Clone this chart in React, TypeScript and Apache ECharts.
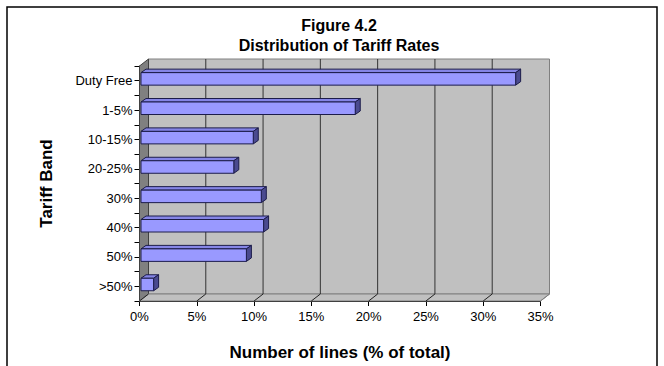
import React, { useEffect, useRef } from "react";
import * as echarts from "echarts";

const categories = ["Duty Free", "1-5%", "10-15%", "20-25%", "30%", "40%", "50%", ">50%"];
const shares = [32.7, 18.7, 9.8, 8.1, 10.5, 10.7, 9.2, 1.1];
const xTicks = [0, 5, 10, 15, 20, 25, 30, 35];

const FONT = "'Liberation Sans', Arial, sans-serif";
const DX = 9;
const DY = -7;

export default function App() {
  const ref = useRef<HTMLDivElement>(null);
  useEffect(() => {
    if (!ref.current) return;
    const chart = echarts.init(ref.current, null, { renderer: "svg" });
    const option: any = {
      animation: false,
      backgroundColor: "#ffffff",
      grid: { left: 139.5, top: 66, width: 401, height: 236, containLabel: false },
      xAxis: {
        type: "value",
        min: 0,
        max: 35,
        interval: 5,
        name: "Number of lines (% of total)",
        nameLocation: "middle",
        nameGap: 43,
        nameTextStyle: { fontFamily: FONT, fontSize: 17, fontWeight: "bold", color: "#000" },
        axisLine: { show: true, lineStyle: { color: "#000", width: 1 } },
        axisTick: { show: true, length: 5, lineStyle: { color: "#000" } },
        axisLabel: { formatter: "{value}%", fontFamily: FONT, fontSize: 13, color: "#000", margin: 9 },
        splitLine: { show: false },
      },
      yAxis: [
        {
          type: "category",
          data: categories,
          inverse: true,
          name: "Tariff Band",
          nameLocation: "middle",
          nameGap: 85,
          nameRotate: 90,
          nameTextStyle: { fontFamily: FONT, fontSize: 17, fontWeight: "bold", color: "#000" },
          axisLine: { show: true, lineStyle: { color: "#000", width: 1 } },
          axisTick: { show: true, length: 5, lineStyle: { color: "#000" } },
          axisLabel: { fontFamily: FONT, fontSize: 13, color: "#000", margin: 7 },
          splitLine: { show: false },
        },
        {
          type: "category",
          data: categories,
          inverse: true,
          position: "left",
          axisLine: { show: false },
          axisTick: { show: true, alignWithLabel: true, length: 5, lineStyle: { color: "#000" } },
          axisLabel: { show: false },
          splitLine: { show: false },
        },
      ],
      graphic: [
        {
          type: "rect",
          shape: { x: 7, y: 7, width: 650, height: 420 },
          style: { fill: "none", stroke: "#000", lineWidth: 1.5 },
          z: 100,
        },
        {
          type: "text",
          x: 339,
          y: 25,
          style: {
            text: "Figure 4.2",
            font: `bold 16px ${FONT}`,
            fill: "#000",
            textAlign: "center",
            textVerticalAlign: "middle",
          },
        },
        {
          type: "text",
          x: 339,
          y: 45,
          style: {
            text: "Distribution of Tariff Rates",
            font: `bold 16px ${FONT}`,
            fill: "#000",
            textAlign: "center",
            textVerticalAlign: "middle",
          },
        },
      ],
      series: [
        {
          type: "custom",
          name: "walls",
          data: [[0, 0]],
          z: 1,
          silent: true,
          renderItem: (params: any, api: any) => {
            const cs = params.coordSys;
            const l = cs.x, t = cs.y, r = cs.x + cs.width, b = cs.y + cs.height;
            return {
              type: "group",
              children: [
                {
                  type: "rect",
                  shape: { x: l + DX, y: t + DY, width: cs.width, height: cs.height },
                  style: { fill: "#c0c0c0", stroke: "#808080", lineWidth: 1 },
                },
                {
                  type: "polygon",
                  shape: { points: [[l, t], [l + DX, t + DY], [l + DX, b + DY], [l, b]] },
                  style: { fill: "#808080", stroke: "#404040", lineWidth: 1 },
                },
                {
                  type: "polygon",
                  shape: { points: [[l, b], [l + DX, b + DY], [r + DX, b + DY], [r, b]] },
                  style: { fill: "#c0c0c0", stroke: "#808080", lineWidth: 1 },
                },
              ],
            };
          },
        },
        {
          type: "custom",
          name: "grid",
          data: xTicks.map((v) => [v, 0]),
          z: 2,
          silent: true,
          renderItem: (params: any, api: any) => {
            const cs = params.coordSys;
            const t = cs.y, b = cs.y + cs.height;
            const v = api.value(0);
            const x = api.coord([v, 0])[0];
            const children: any[] = [];
            if (v > 0 && v < 35) {
              children.push({
                type: "line",
                shape: { x1: x + DX, y1: t + DY, x2: x + DX, y2: b + DY },
                style: { stroke: "#333333", lineWidth: 1 },
              });
            }
            children.push({
              type: "line",
              shape: { x1: x, y1: b, x2: x + DX, y2: b + DY },
              style: { stroke: v < 35 ? "#222222" : "#808080", lineWidth: 1 },
            });
            return { type: "group", children };
          },
        },
        {
          type: "custom",
          name: "Share",
          data: shares.map((v, i) => [v, i]),
          encode: { x: 0, y: 1 },
          z: 3,
          renderItem: (params: any, api: any) => {
            const v = api.value(0);
            const c = api.value(1);
            const p0 = api.coord([0, c]);
            const p1 = api.coord([v, c]);
            const h = 12.5;
            const bx = 5, by = -3.5;
            const x0 = p0[0] + 1.5;
            const x1 = p1[0] + 1.5;
            const yc = p0[1] - 1.8;
            const top = yc - h / 2;
            const bottom = yc + h / 2;
            const stroke = "#1c1c4a";
            return {
              type: "group",
              children: [
                {
                  type: "polygon",
                  shape: { points: [[x0, top], [x0 + bx, top + by], [x1 + bx, top + by], [x1, top]] },
                  style: { fill: "#8585e6", stroke, lineWidth: 1 },
                },
                {
                  type: "polygon",
                  shape: { points: [[x1, top], [x1 + bx, top + by], [x1 + bx, bottom + by], [x1, bottom]] },
                  style: { fill: "#4a4a8f", stroke, lineWidth: 1 },
                },
                {
                  type: "rect",
                  shape: { x: x0, y: top, width: x1 - x0, height: h },
                  style: { fill: "#9999ff", stroke, lineWidth: 1 },
                },
              ],
            };
          },
        },
      ],
    };
    chart.setOption(option);
    return () => chart.dispose();
  }, []);
  return (
    <div
      ref={ref}
      style={{ position: "absolute", left: 0, top: 0, width: 664, height: 366 }}
    />
  );
}
